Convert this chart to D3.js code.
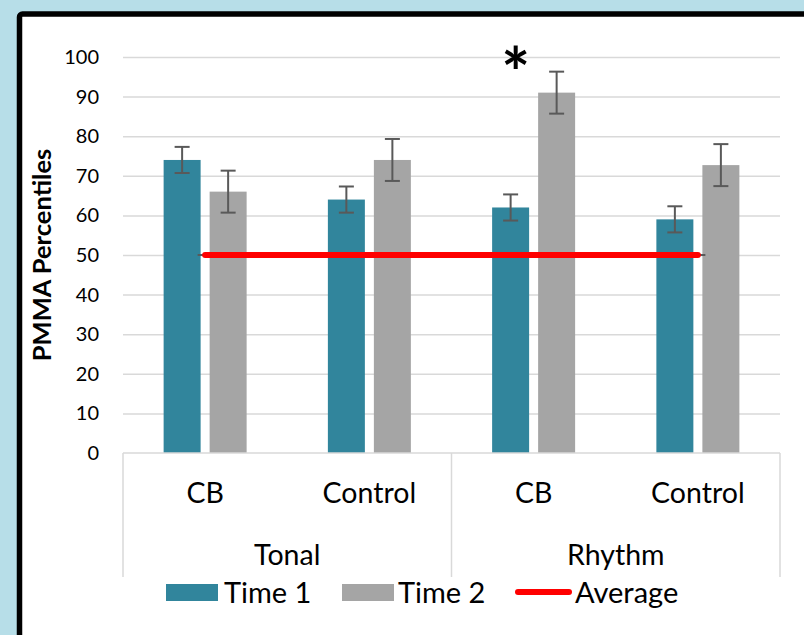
<!DOCTYPE html>
<html>
<head>
<meta charset="utf-8">
<script src="https://cdn.jsdelivr.net/npm/d3@7"></script>
<style>
  html, body { margin: 0; padding: 0; background: #b7dee8; }
  svg { display: block; font-family: Lato, "Open Sans", sans-serif; }
</style>
</head>
<body>
<svg id="chart" width="804" height="635"></svg>
<script>
// data
var groups = ["Tonal", "Rhythm"];
var conditions = ["CB", "Control"];
var series = ["Time 1", "Time 2"];
var time1 = [74, 64, 62, 59];
var time2 = [66, 74, 91, 72.7];
var err1 = [3.3, 3.3, 3.3, 3.3];
var err2 = [5.3, 5.3, 5.3, 5.3];
var average = [50, 50, 50, 50];
var yTicks = [0, 10, 20, 30, 40, 50, 60, 70, 80, 90, 100];
var starIndex = 2;   // Rhythm / CB gets the asterisk

var colors = { "Time 1": "#31859c", "Time 2": "#a5a5a5" };

var svg = d3.select("#chart");

// panel with black frame (runs off the right and bottom edges)
svg.append("rect")
    .attr("x", 19.5).attr("y", 14)
    .attr("width", 820).attr("height", 660)
    .attr("rx", 3)
    .attr("fill", "#fff")
    .attr("stroke", "#000")
    .attr("stroke-width", 5.5);

var plotL = 123, plotR = 780, plotT = 57, plotB = 453;

// one slot per group/condition pair
var cats = [];
groups.forEach(function (g) {
    conditions.forEach(function (c) { cats.push({ group: g, cond: c }); });
});

var x0 = d3.scaleBand()
    .domain(d3.range(cats.length))
    .range([plotL, plotR]);

var x1 = d3.scaleBand()
    .domain(series)
    .range([0, x0.bandwidth()])
    .paddingInner(0.196)
    .paddingOuter(0.883);

var y = d3.scaleLinear().domain([0, 100]).range([plotB, plotT]);

// gridlines
svg.append("g")
    .attr("transform", "translate(" + plotL + ",0)")
    .call(d3.axisLeft(y).tickValues(yTicks.slice(1)).tickSize(-(plotR - plotL)).tickFormat(""))
    .call(function (g) { g.select(".domain").remove(); })
    .selectAll("line")
    .attr("stroke", "#d9d9d9")
    .attr("stroke-width", 1.5);

// y tick labels
svg.append("g")
    .attr("transform", "translate(" + plotL + ",0)")
    .call(d3.axisLeft(y).tickValues(yTicks).tickSize(0).tickPadding(24))
    .call(function (g) { g.select(".domain").remove(); })
    .selectAll("text")
    .attr("font-family", "Lato, sans-serif")
    .attr("font-size", 20)
    .attr("fill", "#000");

svg.append("text")
    .attr("transform", "translate(51," + ((plotT + plotB) / 2) + ") rotate(-90)")
    .attr("text-anchor", "middle")
    .attr("font-size", 25.5)
    .attr("font-weight", "bold")
    .text("PMMA Percentiles");

// bars
var rows = cats.map(function (c, i) {
    return [
        { i: i, s: "Time 1", v: time1[i], e: err1[i] },
        { i: i, s: "Time 2", v: time2[i], e: err2[i] }
    ];
});

var slot = svg.append("g").selectAll("g")
    .data(rows)
    .join("g")
    .attr("transform", function (d, i) { return "translate(" + x0(i) + ",0)"; });

slot.selectAll("rect")
    .data(function (d) { return d; })
    .join("rect")
    .attr("x", function (d) { return x1(d.s); })
    .attr("width", x1.bandwidth())
    .attr("y", function (d) { return y(d.v); })
    .attr("height", function (d) { return y(0) - y(d.v); })
    .attr("fill", function (d) { return colors[d.s]; });

// error bars
var capW = 15;
var eb = slot.selectAll("g.err")
    .data(function (d) { return d; })
    .join("g")
    .attr("class", "err")
    .attr("stroke", "#595959")
    .attr("stroke-width", 2);

eb.append("line")
    .attr("x1", function (d) { return x1(d.s) + x1.bandwidth() / 2; })
    .attr("x2", function (d) { return x1(d.s) + x1.bandwidth() / 2; })
    .attr("y1", function (d) { return y(d.v + d.e); })
    .attr("y2", function (d) { return y(d.v - d.e); });
eb.selectAll("line.cap")
    .data(function (d) { return [d.v + d.e, d.v - d.e].map(function (v) { return { s: d.s, v: v }; }); })
    .join("line")
    .attr("class", "cap")
    .attr("x1", function (d) { return x1(d.s) + x1.bandwidth() / 2 - capW / 2; })
    .attr("x2", function (d) { return x1(d.s) + x1.bandwidth() / 2 + capW / 2; })
    .attr("y1", function (d) { return y(d.v); })
    .attr("y2", function (d) { return y(d.v); });

// category axis: baseline and group separators
var axisCol = "#d9d9d9";
svg.append("line")
    .attr("x1", plotL).attr("x2", plotR)
    .attr("y1", y(0)).attr("y2", y(0))
    .attr("stroke", axisCol).attr("stroke-width", 1.5);

var sepX = [x0(0), x0(conditions.length), plotR];
svg.append("g").selectAll("line")
    .data(sepX)
    .join("line")
    .attr("x1", function (d) { return d; })
    .attr("x2", function (d) { return d; })
    .attr("y1", y(0)).attr("y2", 577)
    .attr("stroke", axisCol).attr("stroke-width", 1.5);

svg.append("g").selectAll("text")
    .data(cats)
    .join("text")
    .attr("x", function (d, i) { return x0(i) + x0.bandwidth() / 2; })
    .attr("y", 503)
    .attr("text-anchor", "middle")
    .attr("font-size", 28.5)
    .text(function (d) { return d.cond; });

svg.append("g").selectAll("text")
    .data(groups)
    .join("text")
    .attr("x", function (d, gi) {
        return (x0(gi * conditions.length) + x0(gi * conditions.length + conditions.length - 1) + x0.bandwidth()) / 2;
    })
    .attr("y", 565)
    .attr("text-anchor", "middle")
    .attr("font-size", 28.5)
    .text(function (d) { return d; });

// average series: zero-length error caps, then the red line
var cx = function (i) { return x0(i) + x0.bandwidth() / 2; };
svg.append("g").selectAll("line")
    .data(average)
    .join("line")
    .attr("x1", function (d, i) { return cx(i) - capW / 2; })
    .attr("x2", function (d, i) { return cx(i) + capW / 2; })
    .attr("y1", function (d) { return y(d); })
    .attr("y2", function (d) { return y(d); })
    .attr("stroke", "#595959").attr("stroke-width", 2);

svg.append("path")
    .datum(average)
    .attr("d", d3.line().x(function (d, i) { return cx(i); }).y(function (d) { return y(d); }))
    .attr("fill", "none")
    .attr("stroke", "#ff0000")
    .attr("stroke-width", 6)
    .attr("stroke-linecap", "round");

// significance marker
svg.append("text")
    .attr("x", x0(starIndex) + x1("Time 1") + x1.bandwidth() / 2 + 5)
    .attr("y", 98)
    .attr("text-anchor", "middle")
    .attr("font-size", 68)
    .attr("font-weight", "bold")
    .text("*");

// legend
var legend = svg.append("g").attr("font-size", 29);
legend.append("rect").attr("x", 166).attr("y", 584).attr("width", 52).attr("height", 17).attr("fill", colors["Time 1"]);
legend.append("text").attr("x", 224).attr("y", 603).text("Time 1");
legend.append("rect").attr("x", 342).attr("y", 584).attr("width", 52).attr("height", 17).attr("fill", colors["Time 2"]);
legend.append("text").attr("x", 398).attr("y", 603).text("Time 2");
legend.append("line").attr("x1", 518).attr("x2", 569).attr("y1", 592).attr("y2", 592)
    .attr("stroke", "#ff0000").attr("stroke-width", 6).attr("stroke-linecap", "round");
legend.append("text").attr("x", 575).attr("y", 603).text("Average");
</script>
</body>
</html>
